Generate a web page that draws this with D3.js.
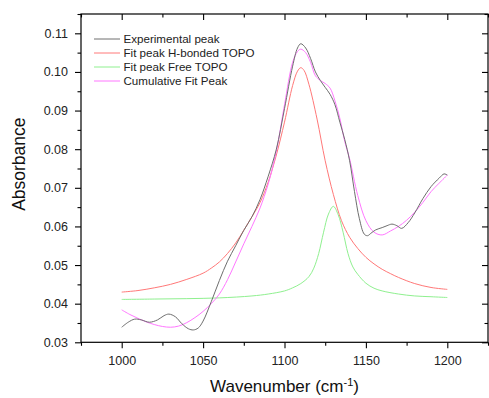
<!DOCTYPE html>
<html>
<head>
<meta charset="utf-8">
<script src="https://cdn.jsdelivr.net/npm/d3@7"></script>
<style>
  html, body { margin: 0; padding: 0; background: #fff; }
  svg { display: block; font-family: "Liberation Sans", Arial, sans-serif; }
</style>
</head>
<body>
<svg id="chart" width="489" height="398"></svg>
<script>
// ---------------- data ----------------
const expX = [1000,1004,1008,1012,1017,1022,1026,1029,1033,1037,1041,1044,1047,1050,1055,1060,1065,1070,1075,1080,1085,1090,1095,1100,1105,1108,1110,1113,1116,1119,1122,1125,1128,1131,1134,1137,1140,1143,1146,1149,1151,1153,1156,1160,1163,1166,1169,1172,1176,1180,1185,1190,1195,1198,1200];
const expY = [0.0339,0.0352,0.0360,0.0358,0.0352,0.0358,0.0369,0.0373,0.0366,0.0348,0.0335,0.0332,0.0337,0.0355,0.0405,0.0460,0.0510,0.0550,0.0590,0.0625,0.0670,0.0730,0.0800,0.0905,0.1015,0.1062,0.1073,0.1062,0.1035,0.1000,0.0978,0.0960,0.0942,0.0915,0.0870,0.0825,0.0770,0.0690,0.0620,0.0580,0.0576,0.0582,0.0591,0.0597,0.0602,0.0606,0.0602,0.0595,0.0610,0.0635,0.0672,0.0703,0.0725,0.0736,0.0733];

const hbX = [1000,1010,1020,1030,1040,1050,1055,1060,1065,1070,1075,1080,1085,1090,1095,1100,1105,1108,1110,1112,1115,1120,1125,1130,1135,1140,1145,1150,1155,1160,1165,1170,1180,1190,1200];
const hbY = [0.0430,0.0434,0.0441,0.0450,0.0463,0.0479,0.0492,0.0508,0.0530,0.0557,0.0590,0.0625,0.0662,0.0715,0.0785,0.0870,0.0965,0.1002,0.1011,0.1004,0.0968,0.0878,0.0770,0.0683,0.0615,0.0572,0.0543,0.0520,0.0503,0.0489,0.0478,0.0468,0.0452,0.0442,0.0437];

const freeX = [1000,1020,1040,1060,1080,1090,1100,1105,1110,1115,1118,1121,1124,1127,1130,1133,1136,1139,1142,1145,1150,1155,1160,1170,1180,1190,1200];
const freeY = [0.0411,0.0412,0.0413,0.0415,0.0420,0.0425,0.0433,0.0441,0.0452,0.0470,0.0492,0.0530,0.0585,0.0632,0.0652,0.0630,0.0585,0.0530,0.0495,0.0476,0.0453,0.0440,0.0433,0.0425,0.0420,0.0418,0.0416];

const cumX = [1000,1005,1010,1015,1020,1025,1030,1035,1040,1045,1050,1055,1060,1065,1070,1075,1080,1085,1090,1095,1100,1105,1108,1110,1113,1116,1119,1122,1125,1128,1131,1134,1137,1140,1145,1150,1155,1160,1165,1170,1175,1180,1185,1190,1195,1200];
const cumY = [0.0384,0.0372,0.0362,0.0353,0.0346,0.0341,0.0339,0.0342,0.0351,0.0364,0.0380,0.0400,0.0425,0.0462,0.0508,0.0555,0.0600,0.0648,0.0710,0.0795,0.0915,0.1025,0.1053,0.1059,0.1050,0.1025,0.0990,0.0978,0.0970,0.0958,0.0925,0.0880,0.0820,0.0775,0.0680,0.0615,0.0585,0.0578,0.0588,0.0600,0.0616,0.0637,0.0662,0.0690,0.0712,0.0733];

const seriesNames = ["Experimental peak", "Fit peak H-bonded TOPO", "Fit peak Free TOPO", "Cumulative Fit Peak"];
const seriesColors = ["#6e6e6e", "#ff7878", "#8ff08f", "#ff77ff"];

const xMajorTicks = [1000, 1050, 1100, 1150, 1200];
const xMinorTicks = [975, 1025, 1075, 1125, 1175, 1225];
const yMajorTicks = [0.03, 0.04, 0.05, 0.06, 0.07, 0.08, 0.09, 0.10, 0.11];
const yMinorTicks = [0.035, 0.045, 0.055, 0.065, 0.075, 0.085, 0.095, 0.105, 0.115];

const xTitle = "Wavenumber (cm";
const yTitle = "Absorbance";

// ---------------- layout ----------------
const svg = d3.select("#chart");
const L = 81, T = 14, R = 488, B = 342.3;
const x = d3.scaleLinear().domain([975, 1225]).range([L, R]);
const y = d3.scaleLinear().domain([0.03, 0.115]).range([B, T]);

const series = [
  {x: expX, y: expY},
  {x: hbX, y: hbY},
  {x: freeX, y: freeY},
  {x: cumX, y: cumY}
];

// draw order: H-bonded, free, cumulative, experimental on top
const line = d3.line().x(d => x(d[0])).y(d => y(d[1])).curve(d3.curveCatmullRom.alpha(0.5));
const plot = svg.append("g");
[1, 2, 3, 0].forEach(i => {
  const pts = series[i].x.map((v, k) => [v, series[i].y[k]]);
  plot.append("path")
    .attr("d", line(pts))
    .attr("fill", "none")
    .attr("stroke", seriesColors[i])
    .attr("stroke-width", 1);
});

// axes
const tickFont = "12.5px";
const axisColor = "#000";
function styleAxis(g) {
  g.select(".domain").remove();
  g.selectAll(".tick line").attr("stroke", axisColor).attr("stroke-width", 1.1);
  g.selectAll(".tick text").attr("fill", "#222").style("font-size", tickFont).style("font-family", "'Liberation Sans', Arial, sans-serif");
}
// bottom major
svg.append("g").attr("transform", `translate(0,${B})`)
  .call(d3.axisBottom(x).tickValues(xMajorTicks).tickSize(6).tickPadding(8).tickFormat(d3.format("d")))
  .call(styleAxis);
svg.append("g").attr("transform", `translate(0,${B})`)
  .call(d3.axisBottom(x).tickValues(xMinorTicks).tickSize(3.5).tickFormat(""))
  .call(styleAxis);
// top inward
svg.append("g").attr("transform", `translate(0,${T})`)
  .call(d3.axisBottom(x).tickValues(xMajorTicks).tickSize(6).tickFormat(""))
  .call(styleAxis);
svg.append("g").attr("transform", `translate(0,${T})`)
  .call(d3.axisBottom(x).tickValues(xMinorTicks).tickSize(3.5).tickFormat(""))
  .call(styleAxis);
// left
svg.append("g").attr("transform", `translate(${L},0)`)
  .call(d3.axisLeft(y).tickValues(yMajorTicks).tickSize(6).tickPadding(7).tickFormat(d3.format(".2f")))
  .call(styleAxis);
svg.append("g").attr("transform", `translate(${L},0)`)
  .call(d3.axisLeft(y).tickValues(yMinorTicks).tickSize(3.5).tickFormat(""))
  .call(styleAxis);
// right inward
svg.append("g").attr("transform", `translate(${R},0)`)
  .call(d3.axisLeft(y).tickValues(yMajorTicks).tickSize(6).tickFormat(""))
  .call(styleAxis);
svg.append("g").attr("transform", `translate(${R},0)`)
  .call(d3.axisLeft(y).tickValues(yMinorTicks).tickSize(3.5).tickFormat(""))
  .call(styleAxis);

// frame
svg.append("rect")
  .attr("x", L).attr("y", T).attr("width", R - L).attr("height", B - T)
  .attr("fill", "none").attr("stroke", axisColor).attr("stroke-width", 1.2);

// axis titles
const xt = svg.append("text")
  .attr("x", (L + R) / 2).attr("y", 391.5)
  .attr("text-anchor", "middle")
  .attr("fill", "#111")
  .style("font-size", "17px");
xt.append("tspan").text(xTitle);
xt.append("tspan").attr("dy", -6).style("font-size", "11px").text("-1");
xt.append("tspan").attr("dy", 6).text(")");

svg.append("text")
  .attr("transform", `translate(24.5,${(T + B) / 2 - 14}) rotate(-90)`)
  .attr("text-anchor", "middle")
  .attr("fill", "#111")
  .style("font-size", "17.5px")
  .text(yTitle);

// legend
const legend = svg.append("g");
seriesNames.forEach((name, i) => {
  const cy = 39 + i * 14;
  legend.append("line")
    .attr("x1", 94).attr("x2", 120).attr("y1", cy).attr("y2", cy)
    .attr("stroke", seriesColors[i]).attr("stroke-width", 1);
  legend.append("text")
    .attr("x", 123.5).attr("y", cy + 4.2)
    .attr("fill", "#222")
    .style("font-size", "11.6px")
    .text(name);
});
</script>
</body>
</html>
